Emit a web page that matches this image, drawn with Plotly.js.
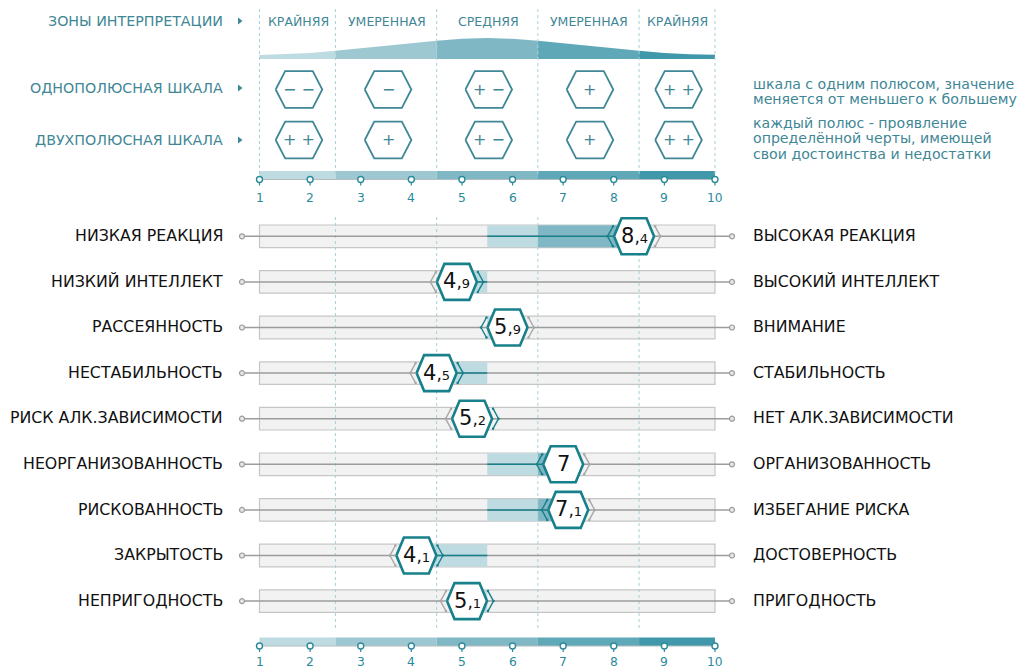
<!DOCTYPE html>
<html><head><meta charset="utf-8">
<script src="https://cdn.plot.ly/plotly-3.0.1.min.js"></script>
<style>html,body{margin:0;padding:0;background:#fff}#chart{width:1022px;height:669px}</style>
</head><body><div id="chart"></div>
<script>
// ---- data ----
const leftLabels = ['НИЗКАЯ РЕАКЦИЯ','НИЗКИЙ ИНТЕЛЛЕКТ','РАССЕЯННОСТЬ','НЕСТАБИЛЬНОСТЬ','РИСК АЛК.ЗАВИСИМОСТИ','НЕОРГАНИЗОВАННОСТЬ','РИСКОВАННОСТЬ','ЗАКРЫТОСТЬ','НЕПРИГОДНОСТЬ'];
const rightLabels = ['ВЫСОКАЯ РЕАКЦИЯ','ВЫСОКИЙ ИНТЕЛЛЕКТ','ВНИМАНИЕ','СТАБИЛЬНОСТЬ','НЕТ АЛК.ЗАВИСИМОСТИ','ОРГАНИЗОВАННОСТЬ','ИЗБЕГАНИЕ РИСКА','ДОСТОВЕРНОСТЬ','ПРИГОДНОСТЬ'];
const scores = [8.4,4.9,5.9,4.5,5.2,7,7.1,4.1,5.1];
const zoneEdges = [1,2.5,4.5,6.5,8.5,10];
const zoneNames = ['КРАЙНЯЯ','УМЕРЕННАЯ','СРЕДНЯЯ','УМЕРЕННАЯ','КРАЙНЯЯ'];
const zoneColors = ['#bedbe2','#9dc8d1','#7fb8c4','#5ea8b7','#4098aa'];
const unipolarSigns = ['− −','−','+ −','+','+ +'];
const bipolarSigns = ['+ +','+','+ −','+','+ +'];
const signCentres = [1.78,3.54,5.53,7.53,9.28];
const curveX = [1,1.5,2,2.5,3,3.5,4,4.5,5,5.5,6,6.5,7,7.5,8,8.5,9,9.5,10];
const curveTop = [55,54.3,53,50.7,48.3,45.7,43,40.7,38.8,38,38.8,40.7,43,45.7,48.3,50.7,53,54.3,54.8];
const tickValues = [1,2,3,4,5,6,7,8,9,10];
const midPoint = 5.5;
const noteLines = [['шкала с одним полюсом, значение',84],['меняется от меньшего к большему',99],['каждый полюс - проявление',123],['определённой черты, имеющей',138],['свои достоинства и недостатки',154]];
const headLabels = [['ЗОНЫ ИНТЕРПРЕТАЦИИ',21],['ОДНОПОЛЮСНАЯ ШКАЛА',88],['ДВУХПОЛЮСНАЯ ШКАЛА',140]];

// ---- style / layout constants ----
const W=1022,H=669,X1=259.5,UNIT=50.61;
const FONT='"DejaVu Sans", sans-serif';
const TEAL='#17808a',TXT='#3f8796',TICK='#2a8a9c',ZL='#a6d0da';
const px=d=>d/UNIT;
const fromPx=p=>1+(p-X1)/UNIT;
const xRange=[fromPx(0),fromPx(W)];
const rowY=i=>236.3+i*45.6;
const traces=[],ann=[];
const note=(text,x,y,size,color,anchor)=>ann.push({text,x,y,xref:'x',yref:'y',showarrow:false,xanchor:anchor||'center',yanchor:'middle',font:{family:FONT,size,color},borderpad:0,borderwidth:0});
const line=(x,y,color,width,dash,extra)=>traces.push(Object.assign({type:'scatter',mode:'lines',x,y,hoverinfo:'skip',line:{color,width,dash:dash||'solid'}},extra||{}));
const hex=(cx,cy,hw,ht,hh,lw,col)=>line([-hw,-ht,ht,hw,ht,-ht,-hw].map(d=>cx+px(d)),[0,-hh,-hh,0,hh,hh,0].map(d=>cy+d),col,lw,'solid',{fill:'toself',fillcolor:'#fff'});
const hbar=(y,base,end,color,h,border)=>traces.push({type:'bar',orientation:'h',y:[y],x:[end-base],base:[base],width:[h],hoverinfo:'skip',marker:{color,line:{color:border||color,width:border?1.2:0}}});

// background rows
scores.forEach((v,i)=>hbar(rowY(i),1,10,'#f2f2f2',22.6,'#c6c6c6'));
// filled bands from the midpoint to the score
scores.forEach((v,i)=>{
  const lo=Math.min(v,midPoint),hi=Math.max(v,midPoint);
  if(hi>6.5){hbar(rowY(i),lo,6.5,zoneColors[0],22);hbar(rowY(i),6.5,hi,zoneColors[2],22);}
  else hbar(rowY(i),lo,hi,zoneColors[0],22);
});
// zone strips
[[171,179.5],[637.5,646]].forEach(([a,b])=>{
  zoneColors.forEach((c,k)=>hbar((a+b)/2,zoneEdges[k],zoneEdges[k+1],c,b-a));
  line([1,10],[b,b],'#b4bcbe',1);
});
// bell curve
zoneColors.forEach((c,k)=>{
  const xs=[],ys=[];
  curveX.forEach((x,j)=>{if(x>=zoneEdges[k]&&x<=zoneEdges[k+1]){xs.push(x);ys.push(curveTop[j]);}});
  const at=e=>{for(let j=1;j<curveX.length;j++)if(e<=curveX[j]){const t=(e-curveX[j-1])/(curveX[j]-curveX[j-1]);return curveTop[j-1]+t*(curveTop[j]-curveTop[j-1]);}return curveTop[0];};
  if(xs[0]!==zoneEdges[k]){xs.unshift(zoneEdges[k]);ys.unshift(at(zoneEdges[k]));}
  if(xs[xs.length-1]!==zoneEdges[k+1]){xs.push(zoneEdges[k+1]);ys.push(at(zoneEdges[k+1]));}
  line(xs.concat([zoneEdges[k+1],zoneEdges[k],zoneEdges[k]]),ys.concat([59,59,ys[0]]),c,0,'solid',{fill:'toself',fillcolor:c});
});
// zone separators
zoneEdges.forEach(e=>line([e,e],[9,176],ZL,1,'dot'));
zoneEdges.slice(1,5).forEach(e=>line([e,e],[217,628],ZL,1,'dot'));
// tick markers
[[179.5,197.5],[646,661.8]].forEach(([y,ly])=>{
  const sx=[],sy=[];
  tickValues.forEach(t=>{sx.push(t,t,null);sy.push(y,y+6,null);note(String(t),t,ly,12.3,TICK);});
  line(sx,sy,TICK,1.2);
  traces.push({type:'scatter',mode:'markers',x:tickValues,y:tickValues.map(()=>y),hoverinfo:'skip',marker:{symbol:'circle',size:6,color:'#fff',line:{color:TICK,width:1.4}}});
});
// head labels and triangles
headLabels.forEach(([t,y])=>note(t,fromPx(222.5),y,14.25,TXT,'right'));
traces.push({type:'scatter',mode:'markers',x:headLabels.map(()=>fromPx(239.5)),y:headLabels.map(h=>h[1]),hoverinfo:'skip',marker:{symbol:'triangle-right',size:6,color:TXT}});
// zone labels
zoneNames.forEach((t,k)=>note(t,(zoneEdges[k]+zoneEdges[k+1])/2+px(0.8),21,12.5,TXT));
// sign hexagons
[[89.5,unipolarSigns],[140,bipolarSigns]].forEach(([y,signs])=>signs.forEach((s,k)=>{
  hex(signCentres[k],y,23.3,13.8,18.3,1.8,'#3f8796');
  note(s,signCentres[k],y-0.5,16,'#3f8796');
}));
noteLines.forEach(([t,y])=>note(t,fromPx(753),y,14.15,TXT,'left'));
// rows
scores.forEach((v,i)=>{
  const y=rowY(i);
  line([fromPx(242),fromPx(732)],[y,y],'#9c9c9c',1.5);
  traces.push({type:'scatter',mode:'markers',x:[fromPx(242),fromPx(732)],y:[y,y],hoverinfo:'skip',marker:{size:5,color:'#e8e8e8',line:{color:'#9c9c9c',width:1.2}}});
  line([v,midPoint],[y,y],TEAL,1.5);
  [-1,1].forEach(side=>{
    const col=(side*(midPoint-v)>0)?TEAL:'#a8a8a8';
    traces.push({type:'scatter',mode:'lines+markers',x:[v+px(side*21),v+px(side*26.5),v+px(side*21)],y:[y-10,y,y+10],hoverinfo:'skip',line:{color:col,width:1.4},marker:{size:2.5,color:col}});
  });
  hex(v,y,20,12.5,18,2.6,TEAL);
  const s=String(v).split('.');
  const label=s.length>1?s[0]+"<span style='font-size:17px'>,</span><span style='font-size:13px'>"+s[1]+"</span>":s[0];
  note(label,v,y-0.5,21,'#111');
  note(leftLabels[i],fromPx(222.5),y-0.8,15.8,'#111','right');
  note(rightLabels[i],fromPx(753),y-0.8,15.8,'#111','left');
});

Plotly.newPlot('chart',traces,{
  width:W,height:H,margin:{l:0,r:0,t:0,b:0},showlegend:false,barmode:'overlay',
  paper_bgcolor:'#fff',plot_bgcolor:'#fff',hovermode:false,
  xaxis:{range:xRange,visible:false,fixedrange:true},
  yaxis:{range:[H,0],visible:false,fixedrange:true},
  annotations:ann
},{displayModeBar:false,staticPlot:true});
</script></body></html>
